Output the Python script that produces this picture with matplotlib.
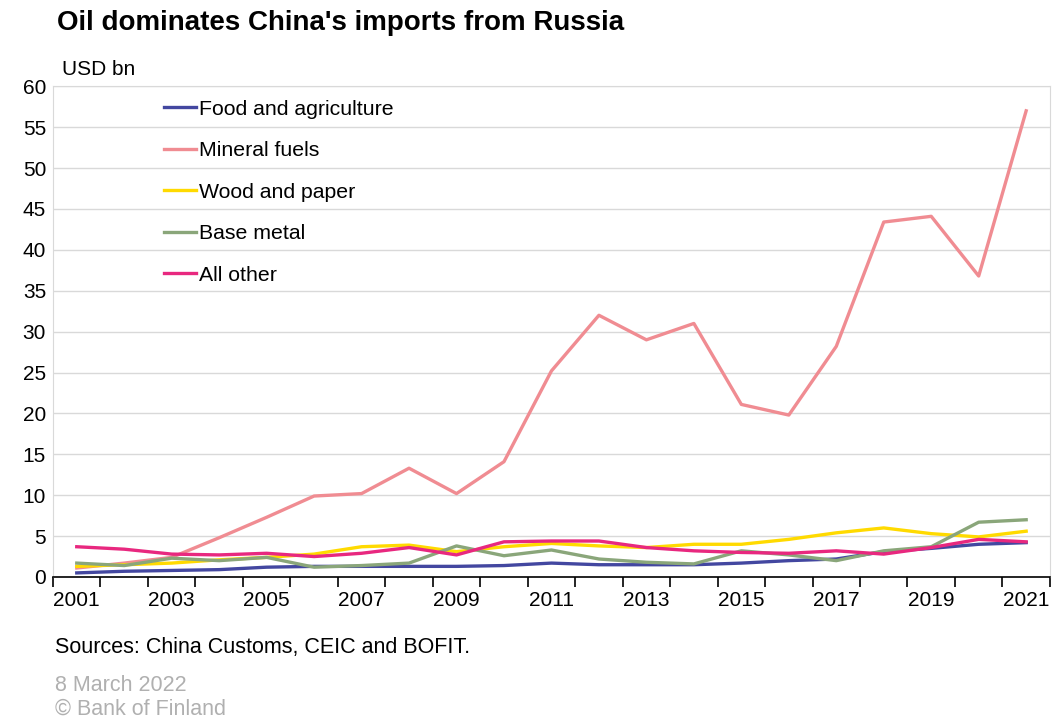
import matplotlib
matplotlib.use('Agg')
from matplotlib import pyplot as plt

plt.rcParams['font.family'] = ['Liberation Sans', 'DejaVu Sans']

years = list(range(2001, 2022))
food = [0.5, 0.7, 0.8, 0.9, 1.2, 1.3, 1.3, 1.3, 1.3, 1.4, 1.7, 1.5, 1.5, 1.5, 1.7, 2.0, 2.2, 3.1, 3.5, 4.0, 4.2]
fuels = [1.1, 1.7, 2.4, 4.8, 7.3, 9.9, 10.2, 13.3, 10.2, 14.1, 25.2, 32.0, 29.0, 31.0, 21.1, 19.8, 28.2, 43.4, 44.1, 36.8, 57.0]
wood = [1.3, 1.5, 1.7, 2.1, 2.4, 2.8, 3.7, 3.9, 3.1, 3.7, 4.1, 3.8, 3.6, 4.0, 4.0, 4.6, 5.4, 6.0, 5.3, 4.9, 5.6]
metal = [1.7, 1.4, 2.3, 2.0, 2.4, 1.2, 1.4, 1.7, 3.8, 2.6, 3.3, 2.2, 1.8, 1.6, 3.2, 2.7, 2.0, 3.2, 3.7, 6.7, 7.0]
other = [3.7, 3.4, 2.8, 2.7, 2.9, 2.5, 2.9, 3.6, 2.7, 4.3, 4.4, 4.4, 3.6, 3.2, 3.0, 2.9, 3.2, 2.8, 3.6, 4.6, 4.3]

series = [
    ('Food and agriculture', food, '#4347a0'),
    ('Mineral fuels', fuels, '#f08c92'),
    ('Wood and paper', wood, '#ffda00'),
    ('Base metal', metal, '#8aa67a'),
    ('All other', other, '#e8287f'),
]

fig = plt.figure(figsize=(10.52, 7.19), dpi=100)
ax = fig.add_axes([0.0504, 0.1975, 0.9476, 0.6825])

for name, vals, col in series:
    ax.plot(years, vals, color=col, lw=2.4, label=name, solid_joinstyle='round')

ax.set_ylim(0, 60)
ax.set_yticks(range(0, 61, 5))
ax.set_xlim(2000.5, 2021.5)
ax.set_xticks([y for y in years if y % 2 == 1])
ax.set_xticks([y - 0.5 for y in years] + [2021.5], minor=True)
ax.tick_params(axis='x', which='major', length=0, pad=10, labelsize=15)
ax.tick_params(axis='x', which='minor', length=7, width=1.2, color='black')
ax.tick_params(axis='y', length=0, pad=5, labelsize=15)
ax.grid(axis='y', color='#d9d9d9', lw=1)
ax.set_axisbelow(True)
for s in ['left', 'right', 'top']:
    ax.spines[s].set_color('#d9d9d9')
ax.spines['bottom'].set_color('black')
ax.spines['bottom'].set_linewidth(1.2)

ax.legend(loc='upper left', bbox_to_anchor=(0.092, 1.012), frameon=False, fontsize=15.3,
          handlelength=1.5, handletextpad=0.15, labelspacing=1.06)

fig.text(0.054, 0.968, "Oil dominates China's imports from Russia", fontsize=20,
         fontweight='bold', va='center')
fig.text(0.059, 0.903, 'USD bn', fontsize=15, va='center')
fig.text(0.052, 0.100, 'Sources: China Customs, CEIC and BOFIT.', fontsize=15.5, va='center')
fig.text(0.052, 0.047, '8 March 2022', fontsize=15.5, va='center', color='#b0b0b0')
fig.text(0.052, 0.014, '\u00a9 Bank of Finland', fontsize=15.5, va='center', color='#b0b0b0')

fig.savefig('out.png', dpi=100)
